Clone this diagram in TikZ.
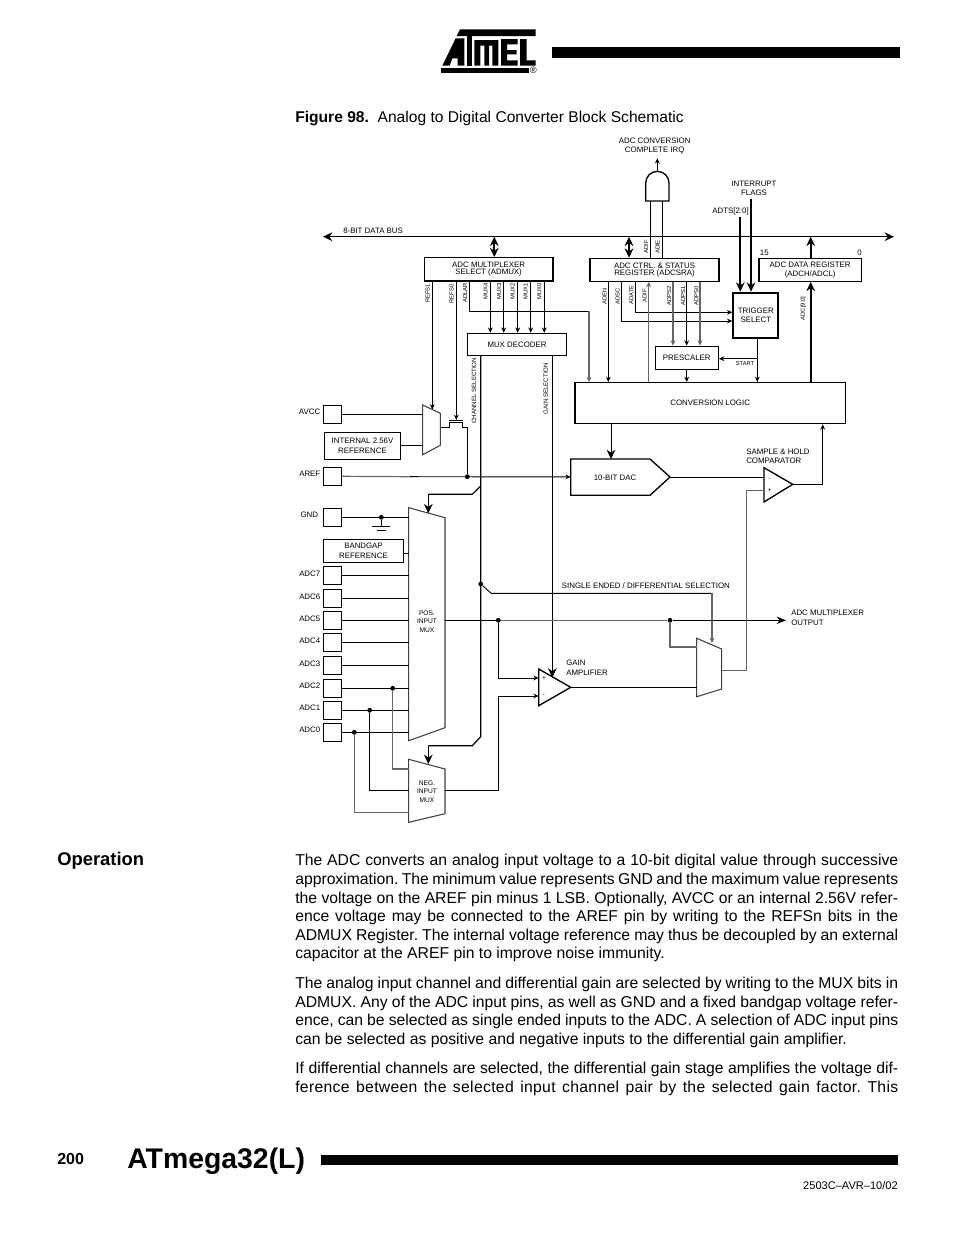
\documentclass[tikz,border=0pt]{standalone}
\usepackage{fontspec}
\setmainfont{Liberation Sans}
\usetikzlibrary{arrows.meta}
\frenchspacing
\tikzset{
  lab/.style={inner sep=0pt,align=center,yshift=-0.6pt,font=\fontsize{5.9}{7}\selectfont},
  labl/.style={lab,anchor=west,align=left},
  labr/.style={lab,anchor=east,align=right},
  vlab/.style={inner sep=0pt,rotate=90,font=\fontsize{4.4}{5}\selectfont},
  tiny lab/.style={inner sep=0pt,align=center,font=\fontsize{5}{6.2}\selectfont},
  box/.style={draw,line width=0.8pt,inner sep=0pt,align=center,font=\fontsize{5.9}{7}\selectfont},
  tightbox/.style={box,font=\fontsize{5.9}{5.3}\selectfont},
  thickbox/.style={box,line width=1.5pt},
  pin/.style={draw,line width=0.7pt,inner sep=0pt},
  wire/.style={line width=0.7pt},
  gwire/.style={line width=0.9pt,black!60},
  thickwire/.style={line width=1.5pt},
  mux/.style={line width=0.8pt,black!75,join=miter},
  sa/.style={-{Stealth[length=4pt,width=3.6pt]}},
  ba/.style={-{Stealth[length=7pt,width=6.5pt]}},
  dba/.style={{Stealth[length=7pt,width=6.5pt]}-{Stealth[length=7pt,width=6.5pt]}},
  dot/.style={circle,fill=black,inner sep=0pt,minimum size=3.6pt},
  bodyline/.style={anchor=base west,inner sep=0pt,font=\fontsize{11.8}{14}\selectfont},
  heavy/.style={inner sep=0pt,anchor=base west,font=\bfseries},
}
\newcommand{\bx}[7][box]{\node[#1,minimum width={(#4-#2)*0.75pt},minimum height={(#5-#3)*0.75pt}] (#6) at ({(#2+#4)/2},{(#3+#5)/2}) {#7};}
\newcommand{\bl}[3]{\node[bodyline] (#1) at (295,#2) {\makebox[452.25pt][s]{#3}};}
\newcommand{\bn}[3]{\node[bodyline] (#1) at (295,#2) {#3};}
\begin{document}
\begin{tikzpicture}[x=0.75pt,y=-0.75pt]
\useasboundingbox (0,0) rectangle (954,1235);
\fill[white] (0,0) rectangle (954,1235);

% ---- logo
\begin{scope}[shift={(435,25)},x=0.25pt,y=-0.25pt]
\fill (75,13)--(302,13)--(302,33)--(65,33)--cycle;
\fill (62,40)--(88,40)--(88,122)--(68,122)--(68,100)--(52,100)--(44,122)--(22,122)--cycle;
\fill (95,33)--(110,33)--(110,122)--(95,122)--cycle;
\fill (118,45)--(190,45)--(190,122)--(172,122)--(172,62)--(162,62)--(162,122)--(148,122)--(148,62)--(136,62)--(136,122)--(118,122)--cycle;
\fill (198,42)--(248,42)--(248,58)--(216,58)--(216,75)--(245,75)--(245,88)--(216,88)--(216,106)--(248,106)--(248,122)--(198,122)--cycle;
\fill (255,42)--(275,42)--(275,106)--(302,106)--(302,122)--(255,122)--cycle;
\fill (18,128)--(283,128)--(283,143)--(18,143)--cycle;
\end{scope}
\node[inner sep=0pt,font=\fontsize{7}{8}\selectfont] (regmark) at (533.3,70.7) {®};
\fill (552,47) rectangle (900,58.3);

\node[inner sep=0pt,anchor=base west,font=\fontsize{11.7}{14}\selectfont] (figtitle) at (295,122) {\textbf{Figure 98.}\ \ Analog to Digital Converter Block Schematic};

% ---- bus
\coordinate (busL) at (323,236.7);
\coordinate (busR) at (894,236.7);
\draw[wire,line width=0.9pt,dba] (busL) -- (busR);
\node[labl] (buslab) at (343,230) {8-BIT DATA BUS};

% ---- registers
\bx[tightbox]{424.3}{257.7}{553}{281}{admux}{ADC MULTIPLEXER\\SELECT (ADMUX)}
\bx[tightbox]{590}{258.3}{719}{281.3}{adcsra}{ADC CTRL. \& STATUS\\REGISTER (ADCSRA)}
\bx[tightbox,font=\fontsize{5.9}{7}\selectfont]{759}{258.3}{861.3}{281.3}{adcdata}{ADC DATA REGISTER\\(ADCH/ADCL)}
\bx{467.3}{333.3}{566.7}{355.7}{muxdec}{MUX DECODER}
\bx[thickbox]{733.3}{292.7}{778.3}{338}{trigger}{TRIGGER\\SELECT}
\bx[box,line width=1pt]{655.3}{346.3}{718.3}{369.3}{presc}{PRESCALER}
\bx[box,line width=1pt]{575}{382.7}{845.3}{423.7}{convlog}{CONVERSION LOGIC}

\draw[thickwire,dba] (494.3,0 |- busL) -- (494.3,0 |- admux.north);
\draw[thickwire,dba] (629,0 |- busL) -- (629,0 |- adcsra.north);
\draw[thickwire,ba] (810.7,0 |- adcdata.north) -- (810.7,0 |- busL);
\draw[thickwire,ba] (810.7,0 |- convlog.north) -- (810.7,0 |- adcdata.south);

% ---- labels on registers
\node[labl] (n15) at (759.7,252.3) {15};
\node[labl,anchor=east] (n0) at (862,252.3) {0};
\foreach \nm/\t/\x/\y in {lrefs1/REFS1/427.7/293.3,lrefs0/REFS0/451.7/294,ladlar/ADLAR/465/293,lmux4/MUX4/485.7/291.7,lmux3/MUX3/499/291.7,lmux2/MUX2/512.7/291.7,lmux1/MUX1/525.7/291.7,lmux0/MUX0/539.3/291.7,laden/ADEN/604.7/296,ladsc/ADSC/617.7/296,ladate/ADATE/631.3/295,ladif/ADIF/644.7/296,ladps2/ADPS2/669/295.7,ladps1/ADPS1/683/295.7,ladps0/ADPS0/696.3/295.7,ladifb/ADIF/646/246.7,ladie/ADIE/657.7/247,ladc/ADC[9:0]/803.3/308.3}
  {\node[vlab] (\nm) at (\x,\y) {\t};}
\node[vlab,font=\fontsize{4.6}{5}\selectfont] (lchan) at (474,390.7) {CHANNEL SELECTION};
\node[vlab,font=\fontsize{4.6}{5}\selectfont] (lgain) at (545.7,388.7) {GAIN SELECTION};
\node[vlab,rotate=-90,font=\fontsize{4.3}{5}\selectfont] (lstart) at (745,364) {START};

% ---- AND gate
\coordinate (andBL) at (645.7,201);
\coordinate (andBR) at (669,201);
\coordinate (andTop) at (657.3,172.3);
\coordinate (irqEnd) at (657.3,158.3);
\draw[line width=1pt] (andBL) -- (645.7,183) arc[start angle=180,end angle=360,radius=11.65] -- (andBR) -- cycle;
\draw[wire,sa] (andTop) -- (irqEnd);
\node[lab] (irq) at (654.7,145.5) {ADC CONVERSION\\COMPLETE IRQ};
\draw[wire] (650.3,0 |- adcsra.north) -- (650.3,0 |- andBL);
\draw[wire] (662,0 |- adcsra.north) -- (662,0 |- andBL);

% ---- interrupts
\node[lab] (intf) at (754,187.3) {INTERRUPT\\FLAGS};
\node[labr] (adts) at (749,210.3) {ADTS[2:0]};
\draw[thickwire,ba] (740.3,217.3) coordinate (adtsS) -- (740.3,0 |- trigger.north);
\draw[thickwire,ba] (751,199.3) coordinate (intS) -- (751,0 |- trigger.north);

% ---- ADMUX wires
\foreach \x in {490.3,503.7,517.7,530.7,544.3}
  \draw[wire,sa] (\x,0 |- admux.south) -- (\x,0 |- muxdec.north);
\coordinate (smA) at (422.7,405);
\coordinate (smB) at (440.3,413.3);
\coordinate (smC) at (440.3,445.3);
\coordinate (smD) at (422.7,454.7);
\draw[mux] (smA)--(smB)--(smC)--(smD)--cycle;
\draw[wire,sa] (432.3,0 |- admux.south) -- (432.3,409.5);
\coordinate (gateT) at (456.3,420);
\draw[wire,sa] (456.3,0 |- admux.south) -- (gateT);
\draw[wire] (449.3,420.3) -- (462.7,420.3);
\coordinate (adlarC) at (589,311.3);
\draw[wire] (469.7,0 |- admux.south) -- (469.7,0 |- adlarC) -- (adlarC);
\draw[gwire,sa] (adlarC) -- (adlarC |- convlog.north);

% ---- ADCSRA wires
\draw[wire,sa] (608.3,0 |- adcsra.south) -- (608.3,0 |- convlog.north);
\draw[wire,sa] (621.3,0 |- adcsra.south) -- (621.3,321) -- (621.3,321 -| trigger.west);
\draw[wire,sa] (635.3,0 |- adcsra.south) -- (635.3,312.3) -- (635.3,312.3 -| trigger.west);
\draw[gwire,sa] (648.7,0 |- convlog.north) -- (648.7,0 |- adcsra.south);
\draw[gwire,sa] (673,0 |- adcsra.south) -- (673,0 |- presc.north);
\draw[wire,sa] (686.7,0 |- adcsra.south) -- (686.7,0 |- presc.north);
\draw[gwire,sa] (700,0 |- adcsra.south) -- (700,0 |- presc.north);
\draw[wire,sa] (686.7,0 |- presc.south) -- (686.7,0 |- convlog.north);
\draw[wire,sa] (757.3,0 |- trigger.south) -- (757.3,0 |- convlog.north);
\draw[wire,sa] (757.3,358.7) coordinate (startJ) -- (startJ -| presc.east);

% ---- pins
\foreach \nm/\t/\a in {avcc/AVCC/405.3,aref/AREF/467.3,gnd/GND/508.3,adcs/ADC7/566.3,adcr/ADC6/589.3,adcq/ADC5/611.3,adcp/ADC4/633.3,adco/ADC3/656.3,adcn/ADC2/679.3,adcm/ADC1/701.3,adcl/ADC0/723.3}{
  \bx[pin]{323.3}{\a}{341.7}{\a+18}{\nm}{}
}
\foreach \nm/\t/\y in {avcc/AVCC/411,aref/AREF/473,adcs/ADC7/572.5,adcr/ADC6/595.5,adcq/ADC5/617.5,adcp/ADC4/640,adco/ADC3/662.5,adcn/ADC2/685,adcm/ADC1/707,adcl/ADC0/729}
  \node[labr] (t\nm) at (320.5,\y) {\t};
\node[lab] (tgnd) at (309.3,514) {GND};
\bx{324.3}{432.3}{400.7}{459.3}{intref}{INTERNAL 2.56V\\REFERENCE}
\bx{323.3}{539.3}{403.7}{562.3}{bandgap}{BANDGAP\\REFERENCE}

% ---- small mux
\draw[wire] (avcc.east) -- (avcc.east -| smA);
\draw[wire] (intref.east) -- (intref.east -| smA);
\node[dot] (arefdot) at (467.3,476.7) {};
\draw[wire] (440.3,427.3) -- (449.3,427.3) -- (449.3,422.7) -- (462.7,422.7) -- (462.7,427.3) -- (arefdot |- 0,427.3) -- (arefdot);

% ---- AREF line
\coordinate (dacW) at (570.7,476.9);
\coordinate (arefM) at (410,476.7);
\draw[gwire] (aref.east) -- (arefM);
\draw[wire,sa] (410,476.7) -- (dacW);

% ---- main muxes
\coordinate (pmA) at (408.7,507.7);
\coordinate (pmB) at (445,517.7);
\coordinate (pmC) at (445,727.7);
\coordinate (pmD) at (408.7,740.7);
\draw[mux] (pmA)--(pmB)--(pmC)--(pmD)--cycle;
\node[tiny lab] (posl) at (427,621.5) {POS.\\INPUT\\MUX};
\coordinate (nmA) at (408.7,759.3);
\coordinate (nmB) at (445,769);
\coordinate (nmC) at (445,813.7);
\coordinate (nmD) at (408.7,822.3);
\draw[mux] (nmA)--(nmB)--(nmC)--(nmD)--cycle;
\node[tiny lab] (negl) at (427,791.5) {NEG.\\INPUT\\MUX};

\draw[wire] (gnd.east) -- (gnd.east -| pmA);
\node[dot] (gnddot) at (381.3,517.3) {};
\coordinate (gndB) at (381.3,526);
\draw[wire] (gnddot) -- (gndB);
\draw[wire] (372.3,526) -- (390,526);
\draw[wire] (376.7,530.3) -- (386,530.3);
\draw[wire] (bandgap.east |- 0,553.3) -- (pmA |- 0,553.3);
\foreach \nm in {adcs,adcr,adcq,adcp,adco,adcn,adcm,adcl}
  \draw[wire] (\nm.east) -- (\nm.east -| pmA);
\node[dot] (d2) at (392.7,688.3) {};
\node[dot] (d1) at (369.7,710.3) {};
\node[dot] (d0) at (354.3,732.3) {};
\draw[gwire] (d2) -- (392.7,769) -- (408.7,769);
\draw[wire] (d1) -- (369.7,790.3) -- (408.7,790.3);
\draw[gwire] (d0) -- (354.3,812.7) -- (408.7,812.7);

% ---- selection lines
\coordinate (chanB) at (480.7,736.7);
\draw[line width=0.9pt] (480.7,0 |- muxdec.south) -- (chanB) -- (472.3,745.7) -- (428.3,745.7);
\draw[line width=0.9pt,ba] (428.3,745.7) -- (428.3,764);
\draw[line width=0.9pt] (480.7,486) -- (472.3,494.3) -- (428.3,494.3);
\draw[line width=0.9pt,ba] (428.3,494.3) -- (428.3,513.3);
\node[dot] (seldot) at (480.7,584) {};
\draw[wire] (seldot) -- (491.3,593.3) -- (712,593.3);
\draw[gwire,sa] (712,593.3) -- (712,643);
\node[labl] (sellab) at (561.7,585) {SINGLE ENDED / DIFFERENTIAL SELECTION};
\draw[wire,ba] (552.3,0 |- muxdec.south) -- (552.3,677.5);

% ---- outputs
\node[dot] (outd1) at (498.3,620.3) {};
\node[dot] (outd2) at (670,620.3) {};
\coordinate (outEnd) at (786,620.3);
\draw[wire] (445,620.3) -- (outd1);
\draw[gwire] (outd1) -- (outd2);
\draw[wire,-{Stealth[length=7pt,width=5.5pt]}] (outd2) -- (outEnd);
\node[labl] (outlab) at (791,617) {ADC MULTIPLEXER\\OUTPUT};
\coordinate (ampA) at (538.7,669);
\coordinate (ampB) at (570.7,687.3);
\coordinate (ampC) at (538.7,705.7);
\draw[line width=1pt] (ampA)--(ampB)--(ampC)--cycle;
\draw[wire,sa] (outd1) -- (498.3,678) -- (ampA |- 0,678);
\draw[wire] (445,790.3) -- (498.3,790.3) -- (498.3,696);
\draw[wire,sa] (498.3,696) -- (ampA |- 0,696);
\node[tiny lab] (ampp) at (544,679) {+};
\node[tiny lab] (ampm) at (543.7,695) {-};
\node[labl] (amplab) at (566,667) {GAIN\\AMPLIFIER};

\coordinate (omA) at (696.7,638.3);
\coordinate (omB) at (721.7,649);
\coordinate (omC) at (721.7,689);
\coordinate (omD) at (696.7,696.7);
\draw[mux] (omA)--(omB)--(omC)--(omD)--cycle;
\draw[wire] (ampB) -- (ampB -| omA);
\draw[gwire] (outd2) -- (670,647) -- (696.7,647);

% ---- comparator
\coordinate (cmpA) at (764,467.7);
\coordinate (cmpB) at (792.7,484.3);
\coordinate (cmpC) at (764,502);
\draw[line width=1pt] (cmpA)--(cmpB)--(cmpC)--cycle;
\node[tiny lab] (cmpm) at (769.7,479.3) {-};
\node[tiny lab] (cmpp) at (769.7,490.7) {+};
\node[labl] (cmplab) at (746,455.5) {SAMPLE \& HOLD\\COMPARATOR};
\draw[gwire] (721.7,670.3) -- (746.3,670.3) -- (746.3,490.3) -- (764,490.3);
\draw[wire,sa] (cmpB) -- (822.7,484.3) -- (822.7,0 |- convlog.south);

% ---- DAC
\coordinate (dacTL) at (570.7,459);
\coordinate (dacS) at (650,459);
\coordinate (dacE) at (670,477);
\coordinate (dacB) at (650,495.3);
\coordinate (dacBL) at (570.7,495.3);
\draw[line width=1pt] (dacTL)--(dacS)--(dacE)--(dacB)--(dacBL)--cycle;
\node[lab] (daclab) at (615,477) {10-BIT DAC};
\draw[wire] (dacE) -- (dacE -| cmpA);
\draw[wire,ba] (611,0 |- convlog.south) -- (611,0 |- dacTL);

% ---- page text
\node[inner sep=0pt,anchor=base west,font=\bfseries\fontsize{13.8}{16}\selectfont] (oper) at (57,865.5) {Operation};
\bl{p1}{865}{The ADC converts an analog input voltage to a 10-bit digital value through successive}
\bl{p2}{884}{approximation. The minimum value represents GND and the maximum value represents}
\bl{p3}{903}{the voltage on the AREF pin minus 1 LSB. Optionally, AVCC or an internal 2.56V refer-}
\bl{p4}{921}{ence voltage may be connected to the AREF pin by writing to the REFSn bits in the}
\bl{p5}{940}{ADMUX Register. The internal voltage reference may thus be decoupled by an external}
\bn{p6}{958}{capacitor at the AREF pin to improve noise immunity.}
\bl{p7}{988}{The analog input channel and differential gain are selected by writing to the MUX bits in}
\bl{p8}{1007}{ADMUX. Any of the ADC input pins, as well as GND and a fixed bandgap voltage refer-}
\bl{p9}{1025}{ence, can be selected as single ended inputs to the ADC. A selection of ADC input pins}
\bn{p10}{1044}{can be selected as positive and negative inputs to the differential gain amplifier.}
\bl{p11}{1073}{If differential channels are selected, the differential gain stage amplifies the voltage dif-}
\bl{p12}{1092}{\addfontfeature{LetterSpace=2}ference between the selected input channel pair by the selected gain factor. This}

\node[inner sep=0pt,anchor=base west,font=\bfseries\fontsize{12}{14}\selectfont] (pageno) at (57,1164) {200};
\node[inner sep=0pt,anchor=base west,font=\bfseries\fontsize{21.3}{26}\selectfont] (atmega) at (127,1168) {ATmega32(L)};
\fill (321,1155) rectangle (898,1165);
\node[inner sep=0pt,anchor=base east,font=\fontsize{8.3}{10}\selectfont] (docid) at (898,1189) {2503C–AVR–10/02};
\end{tikzpicture}
\end{document}
